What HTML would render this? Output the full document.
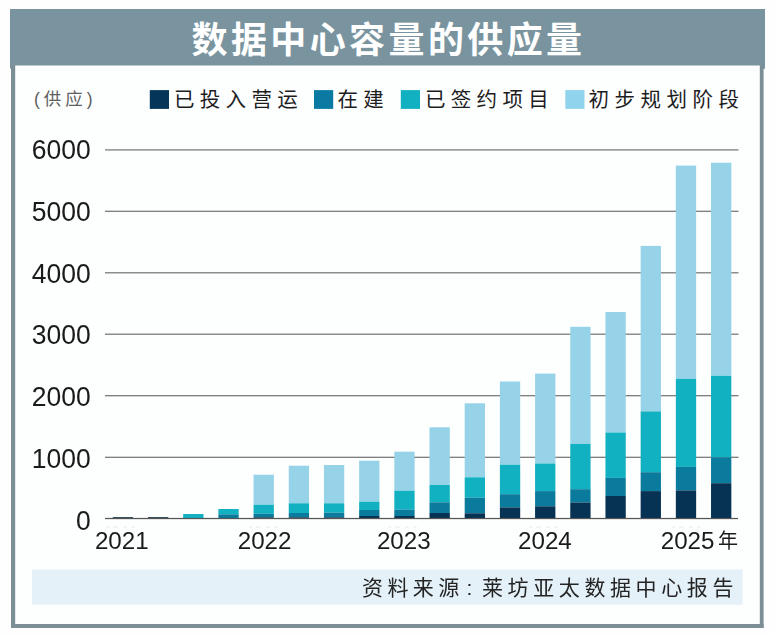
<!DOCTYPE html>
<html lang="zh"><head><meta charset="utf-8"><title>数据中心容量的供应量</title>
<style>
html,body{margin:0;padding:0;background:#fefefe;}
body{width:774px;height:635px;overflow:hidden;font-family:"Liberation Sans",sans-serif;}
svg{display:block;position:absolute;left:0;top:0;}
svg text{font-family:"Liberation Sans","Noto Sans CJK SC",sans-serif;}
.num{filter:grayscale(1);}
</style></head><body>
<svg width="774" height="635" viewBox="0 0 774 635">
<rect width="774" height="635" fill="#fefefe"/>
<rect x="13" y="60" width="749" height="566" fill="#fdfefe"/>
<rect x="11" y="60" width="4.2" height="568" fill="#7c8f97"/>
<rect x="759.8" y="60" width="3.8" height="568" fill="#7c8f97"/>
<rect x="11" y="624" width="752.6" height="4" fill="#7c8f97"/>
<rect x="10" y="9" width="755" height="56.5" fill="#7a949f"/>
<rect x="10" y="65" width="1.2" height="3.5" fill="#7a949f"/><rect x="763" y="65" width="2" height="3.8" fill="#7a949f"/>
<text x="191.5" y="53" font-size="36" font-weight="bold" letter-spacing="3.4" fill="#ffffff">数据中心容量的供应量</text>
<text x="34" y="105" font-size="17.5" letter-spacing="4" fill="#5e5e5e">(供应)</text>
<rect x="149.8" y="90.1" width="19.2" height="18.8" fill="#06355a"/>
<text x="174" y="106.5" font-size="20.5" letter-spacing="5.3" fill="#1d1d1f">已投入营运</text>
<rect x="314.0" y="90.1" width="19.2" height="18.8" fill="#0b7aa3"/>
<text x="337.5" y="106.5" font-size="20.5" letter-spacing="5.3" fill="#1d1d1f">在建</text>
<rect x="400.8" y="90.1" width="19.2" height="18.8" fill="#11b1c1"/>
<text x="425" y="106.5" font-size="20.5" letter-spacing="5.3" fill="#1d1d1f">已签约项目</text>
<rect x="565.3" y="90.1" width="19.2" height="18.8" fill="#90d3ec"/>
<text x="588.5" y="106.5" font-size="20.5" letter-spacing="5.5" fill="#1d1d1f">初步规划阶段</text>
<rect x="105" y="149.3" width="633.5" height="1.2" fill="#727272"/>
<rect x="105" y="210.7" width="633.5" height="1.2" fill="#727272"/>
<rect x="105" y="272.2" width="633.5" height="1.2" fill="#727272"/>
<rect x="105" y="333.6" width="633.5" height="1.2" fill="#727272"/>
<rect x="105" y="395.1" width="633.5" height="1.2" fill="#727272"/>
<rect x="105" y="456.7" width="633.5" height="1.2" fill="#727272"/>
<rect x="112.80" y="517.0" width="20.3" height="1.5" fill="#35505c"/>
<rect x="147.99" y="517.0" width="20.3" height="1.5" fill="#35505c"/>
<rect x="183.18" y="514.0" width="20.3" height="4.5" fill="#11b1c1"/>
<rect x="218.37" y="509.0" width="20.3" height="5.3" fill="#11b1c1"/>
<rect x="218.37" y="514.3" width="20.3" height="4.2" fill="#0a7b9c"/>
<rect x="253.56" y="474.7" width="20.3" height="30.0" fill="#96d3e8"/>
<rect x="253.56" y="504.7" width="20.3" height="9.1" fill="#11b1c1"/>
<rect x="253.56" y="513.8" width="20.3" height="3.5" fill="#0a7b9c"/>
<rect x="253.56" y="517.3" width="20.3" height="1.2" fill="#063253"/>
<rect x="288.75" y="465.7" width="20.3" height="37.6" fill="#96d3e8"/>
<rect x="288.75" y="503.3" width="20.3" height="9.7" fill="#11b1c1"/>
<rect x="288.75" y="513.0" width="20.3" height="4.3" fill="#0a7b9c"/>
<rect x="288.75" y="517.3" width="20.3" height="1.2" fill="#063253"/>
<rect x="323.94" y="465.0" width="20.3" height="38.3" fill="#96d3e8"/>
<rect x="323.94" y="503.3" width="20.3" height="9.4" fill="#11b1c1"/>
<rect x="323.94" y="512.7" width="20.3" height="4.6" fill="#0a7b9c"/>
<rect x="323.94" y="517.3" width="20.3" height="1.2" fill="#063253"/>
<rect x="359.13" y="460.7" width="20.3" height="41.0" fill="#96d3e8"/>
<rect x="359.13" y="501.7" width="20.3" height="8.3" fill="#11b1c1"/>
<rect x="359.13" y="510.0" width="20.3" height="6.0" fill="#0a7b9c"/>
<rect x="359.13" y="516.0" width="20.3" height="2.5" fill="#063253"/>
<rect x="394.32" y="451.7" width="20.3" height="39.0" fill="#96d3e8"/>
<rect x="394.32" y="490.7" width="20.3" height="19.0" fill="#11b1c1"/>
<rect x="394.32" y="509.7" width="20.3" height="6.3" fill="#0a7b9c"/>
<rect x="394.32" y="516.0" width="20.3" height="2.5" fill="#063253"/>
<rect x="429.51" y="427.3" width="20.3" height="57.7" fill="#96d3e8"/>
<rect x="429.51" y="485.0" width="20.3" height="17.3" fill="#11b1c1"/>
<rect x="429.51" y="502.3" width="20.3" height="10.7" fill="#0a7b9c"/>
<rect x="429.51" y="513.0" width="20.3" height="5.5" fill="#063253"/>
<rect x="464.70" y="403.3" width="20.3" height="74.0" fill="#96d3e8"/>
<rect x="464.70" y="477.3" width="20.3" height="20.4" fill="#11b1c1"/>
<rect x="464.70" y="497.7" width="20.3" height="15.6" fill="#0a7b9c"/>
<rect x="464.70" y="513.3" width="20.3" height="5.2" fill="#063253"/>
<rect x="499.89" y="381.5" width="20.3" height="83.2" fill="#96d3e8"/>
<rect x="499.89" y="464.7" width="20.3" height="29.5" fill="#11b1c1"/>
<rect x="499.89" y="494.2" width="20.3" height="13.2" fill="#0a7b9c"/>
<rect x="499.89" y="507.4" width="20.3" height="11.1" fill="#063253"/>
<rect x="535.08" y="373.6" width="20.3" height="89.9" fill="#96d3e8"/>
<rect x="535.08" y="463.5" width="20.3" height="27.6" fill="#11b1c1"/>
<rect x="535.08" y="491.1" width="20.3" height="15.2" fill="#0a7b9c"/>
<rect x="535.08" y="506.3" width="20.3" height="12.2" fill="#063253"/>
<rect x="570.27" y="326.8" width="20.3" height="117.1" fill="#96d3e8"/>
<rect x="570.27" y="443.9" width="20.3" height="45.3" fill="#11b1c1"/>
<rect x="570.27" y="489.2" width="20.3" height="13.3" fill="#0a7b9c"/>
<rect x="570.27" y="502.5" width="20.3" height="16.0" fill="#063253"/>
<rect x="605.46" y="312.0" width="20.3" height="120.5" fill="#96d3e8"/>
<rect x="605.46" y="432.5" width="20.3" height="45.4" fill="#11b1c1"/>
<rect x="605.46" y="477.9" width="20.3" height="18.1" fill="#0a7b9c"/>
<rect x="605.46" y="496.0" width="20.3" height="22.5" fill="#063253"/>
<rect x="640.65" y="245.9" width="20.3" height="165.5" fill="#96d3e8"/>
<rect x="640.65" y="411.4" width="20.3" height="60.8" fill="#11b1c1"/>
<rect x="640.65" y="472.2" width="20.3" height="18.9" fill="#0a7b9c"/>
<rect x="640.65" y="491.1" width="20.3" height="27.4" fill="#063253"/>
<rect x="675.84" y="165.6" width="20.3" height="213.2" fill="#96d3e8"/>
<rect x="675.84" y="378.8" width="20.3" height="88.1" fill="#11b1c1"/>
<rect x="675.84" y="466.9" width="20.3" height="23.5" fill="#0a7b9c"/>
<rect x="675.84" y="490.4" width="20.3" height="28.1" fill="#063253"/>
<rect x="711.03" y="162.7" width="20.3" height="213.1" fill="#96d3e8"/>
<rect x="711.03" y="375.8" width="20.3" height="81.7" fill="#11b1c1"/>
<rect x="711.03" y="457.5" width="20.3" height="25.7" fill="#0a7b9c"/>
<rect x="711.03" y="483.2" width="20.3" height="35.3" fill="#063253"/>
<rect x="105" y="517.9" width="633" height="1.25" fill="#555555"/>
<g class="num">
<text transform="translate(90.8,159.00) scale(0.954,1)" text-anchor="end" font-size="27.8" fill="#1a1a1a">6000</text>
<text transform="translate(90.8,220.80) scale(0.954,1)" text-anchor="end" font-size="27.8" fill="#1a1a1a">5000</text>
<text transform="translate(90.8,282.60) scale(0.954,1)" text-anchor="end" font-size="27.8" fill="#1a1a1a">4000</text>
<text transform="translate(90.8,344.40) scale(0.954,1)" text-anchor="end" font-size="27.8" fill="#1a1a1a">3000</text>
<text transform="translate(90.8,406.20) scale(0.954,1)" text-anchor="end" font-size="27.8" fill="#1a1a1a">2000</text>
<text transform="translate(90.8,468.10) scale(0.954,1)" text-anchor="end" font-size="27.8" fill="#1a1a1a">1000</text>
<text transform="translate(90.8,529.90) scale(0.954,1)" text-anchor="end" font-size="27.8" fill="#1a1a1a">0</text>
<text transform="translate(121.8,549.3) scale(0.975,1)" text-anchor="middle" font-size="24.8" fill="#1a1a1a">2021</text>
<text transform="translate(264.6,549.3) scale(0.975,1)" text-anchor="middle" font-size="24.8" fill="#1a1a1a">2022</text>
<text transform="translate(403.8,549.3) scale(0.975,1)" text-anchor="middle" font-size="24.8" fill="#1a1a1a">2023</text>
<text transform="translate(544.9,549.3) scale(0.975,1)" text-anchor="middle" font-size="24.8" fill="#1a1a1a">2024</text>
<text transform="translate(687.6,549.3) scale(0.975,1)" text-anchor="middle" font-size="24.8" fill="#1a1a1a">2025</text>
</g>
<rect x="106.2" y="526.6" width="3.0" height="1.1" fill="#ececec"/>
<rect x="113.2" y="526.6" width="4.5" height="1.1" fill="#ececec"/>
<rect x="123.2" y="526.6" width="4.0" height="1.1" fill="#ececec"/>
<rect x="131.2" y="526.6" width="3.5" height="1.1" fill="#ececec"/>
<rect x="249.0" y="526.6" width="3.0" height="1.1" fill="#ececec"/>
<rect x="256.0" y="526.6" width="4.5" height="1.1" fill="#ececec"/>
<rect x="266.0" y="526.6" width="4.0" height="1.1" fill="#ececec"/>
<rect x="274.0" y="526.6" width="3.5" height="1.1" fill="#ececec"/>
<rect x="388.2" y="526.6" width="3.0" height="1.1" fill="#ececec"/>
<rect x="395.2" y="526.6" width="4.5" height="1.1" fill="#ececec"/>
<rect x="405.2" y="526.6" width="4.0" height="1.1" fill="#ececec"/>
<rect x="413.2" y="526.6" width="3.5" height="1.1" fill="#ececec"/>
<rect x="529.3" y="526.6" width="3.0" height="1.1" fill="#ececec"/>
<rect x="536.3" y="526.6" width="4.5" height="1.1" fill="#ececec"/>
<rect x="546.3" y="526.6" width="4.0" height="1.1" fill="#ececec"/>
<rect x="554.3" y="526.6" width="3.5" height="1.1" fill="#ececec"/>
<rect x="672.0" y="526.6" width="3.0" height="1.1" fill="#ececec"/>
<rect x="679.0" y="526.6" width="4.5" height="1.1" fill="#ececec"/>
<rect x="689.0" y="526.6" width="4.0" height="1.1" fill="#ececec"/>
<rect x="697.0" y="526.6" width="3.5" height="1.1" fill="#ececec"/>
<text x="718" y="548" font-size="20" fill="#1d1d1f">年</text>
<rect x="32" y="569.5" width="710.5" height="35.2" fill="#e4f1f8"/>
<text x="362" y="595" font-size="21" letter-spacing="4.4" fill="#242424">资料来源</text>
<text x="469.5" y="595" font-size="21" text-anchor="middle" fill="#242424">:</text>
<text x="482" y="595" font-size="21" letter-spacing="4.6" fill="#242424">莱坊亚太数据中心报告</text>
</svg>
</body></html>
